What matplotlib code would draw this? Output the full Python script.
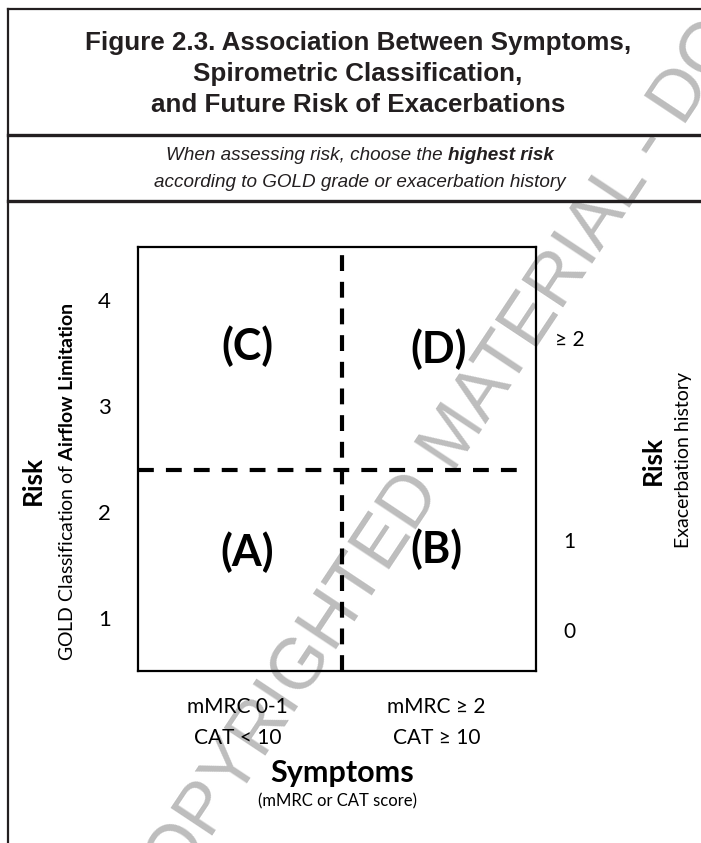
import matplotlib
matplotlib.use("Agg")
import matplotlib.pyplot as plt
from matplotlib import font_manager
from matplotlib.lines import Line2D

# chart content
title_lines = ["Figure 2.3. Association Between Symptoms,",
               "Spirometric Classification,",
               "and Future Risk of Exacerbations"]
subtitle_parts = [("When assessing risk, choose the ", "normal"),
                  ("highest risk", "bold")]
subtitle_line2 = "according to GOLD grade or exacerbation history"
gold_grades = [1, 2, 3, 4]
gold_labels = ["1", "2", "3", "4"]
exac_labels = ["0", "1", "≥ 2"]
symptom_labels = ["mMRC 0-1\nCAT < 10", "mMRC ≥ 2\nCAT ≥ 10"]
quadrant_labels = ["(A)", "(B)", "(C)", "(D)"]
watermark = "COPYRIGHTED MATERIAL - DO NOT ALTER OR REPRODUCE"

installed = {f.name for f in font_manager.fontManager.ttflist}
narrow = "Liberation Sans Narrow" if "Liberation Sans Narrow" in installed else "Liberation Sans"
squeeze = 1.0 if narrow == "Liberation Sans Narrow" else 0.85
body = "Lato"

plt.rcParams["font.family"] = [body, "DejaVu Sans"]
plt.rcParams["mathtext.fontset"] = "custom"
plt.rcParams["mathtext.rm"] = body
plt.rcParams["mathtext.bf"] = body + ":bold"

W, H = 701, 843
fig = plt.figure(figsize=(W / 100, H / 100), dpi=100)


def fx(px):
    return px / W


def fy(py):
    return 1 - py / H


# frame lines of the figure panel
ink = "#231f20"
fig.add_artist(Line2D([fx(8), fx(701)], [fy(9), fy(9)], color=ink, lw=1.6))
fig.add_artist(Line2D([fx(8), fx(701)], [fy(135), fy(135)], color=ink, lw=2.4))
fig.add_artist(Line2D([fx(8), fx(701)], [fy(201), fy(201)], color=ink, lw=2.4))
fig.add_artist(Line2D([fx(8), fx(8)], [fy(9), 0], color=ink, lw=1.6))

# title
title_base = [50, 81, 112]
for line, yb in zip(title_lines, title_base):
    fig.text(fx(358), fy(yb), line, ha="center", va="baseline",
             family=narrow, weight="bold", fontsize=22 * squeeze, color=ink)

# subtitle, first line has a bold part
fig.canvas.draw()
renderer = fig.canvas.get_renderer()
pieces = []
for txt, wt in subtitle_parts:
    t = fig.text(0, fy(160), txt, ha="left", va="baseline", family=narrow,
                 style="italic", weight=wt, fontsize=16 * squeeze, color=ink)
    pieces.append(t)
widths = [p.get_window_extent(renderer).width for p in pieces]
x0 = 360 - sum(widths) / 2
for p, w in zip(pieces, widths):
    p.set_x(fx(x0))
    x0 += w
fig.text(fx(360), fy(187), subtitle_line2, ha="center", va="baseline",
         family=narrow, style="italic", fontsize=16 * squeeze, color=ink)

# watermark behind the diagram
fig.text(fx(150), fy(930), watermark, rotation=56.4, rotation_mode="anchor",
         ha="left", va="baseline", family=narrow, fontsize=61 * squeeze,
         color="#bdbdbd", zorder=-5)

# quadrant diagram
ax = fig.add_axes([fx(138), fy(671), fx(536) - fx(138), fy(247) - fy(671)])
ax.patch.set_visible(False)
ax.set_xlim(0, 2)
ax.set_ylim(0.5, 4.5)
for s in ax.spines.values():
    s.set_linewidth(1.6)
    s.set_color("black")

split_x, split_y = 1.025, 2.4
ax.axvline(split_x, color="black", lw=3, linestyle=(0, (3.8, 2.6)))
ax.axhline(split_y, xmin=0, xmax=0.98, color="black", lw=3, linestyle=(0, (3.8, 2.9)))

quad_pos = {"(A)": (0.55, 1.62), "(B)": (1.5, 1.65), "(C)": (0.55, 3.56), "(D)": (1.51, 3.54)}
for lab in quadrant_labels:
    x, y = quad_pos[lab]
    ax.text(x, y, lab, ha="center", va="center", fontsize=31, weight="bold")

ax.set_yticks(gold_grades, gold_labels)
ax.tick_params(axis="y", length=0, pad=24, labelsize=16)
for t in ax.get_yticklabels():
    t.set_horizontalalignment("center")

ax.set_xticks([0.5, 1.5], symptom_labels)
ax.tick_params(axis="x", length=0, pad=19, labelsize=15)
for t in ax.get_xticklabels():
    t.set_linespacing(1.65)

ax2 = ax.twinx()
ax2.set_ylim(ax.get_ylim())
ax2.set_yticks([0.89, 1.74, 3.64], exac_labels)
ax2.tick_params(axis="y", length=0, pad=24, labelsize=15)
for t in ax2.get_yticklabels():
    t.set_horizontalalignment("center")
for s in ax2.spines.values():
    s.set_visible(False)

# axis titles
fig.text(fx(33), fy(480), "Risk", rotation=90, ha="center", va="center",
         fontsize=19, weight="bold")
fig.text(fx(67), fy(482), r"GOLD Classification of $\mathbf{Airflow}$ $\mathbf{Limitation}$",
         rotation=90, ha="center", va="center", fontsize=14)
fig.text(fx(653), fy(460), "Risk", rotation=90, ha="center", va="center",
         fontsize=19, weight="bold")
fig.text(fx(683), fy(460), "Exacerbation history", rotation=90, ha="center",
         va="center", fontsize=14)
fig.text(fx(342), fy(782), "Symptoms", ha="center", va="baseline",
         fontsize=22, weight="bold")
fig.text(fx(338), fy(806), "(mMRC or CAT score)", ha="center", va="baseline",
         fontsize=12)

fig.savefig("out.png", dpi=100)
